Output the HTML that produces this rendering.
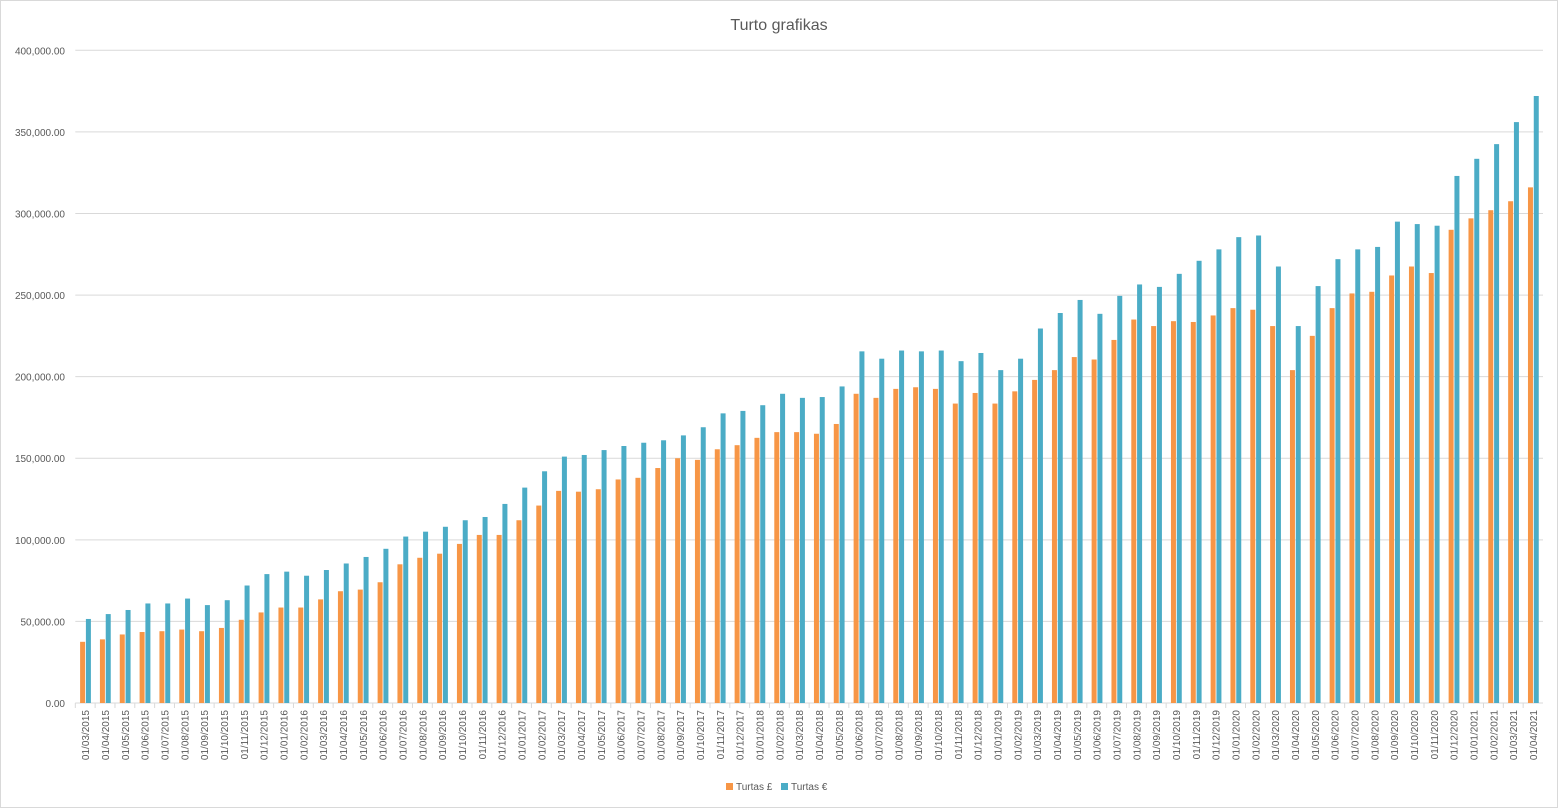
<!DOCTYPE html>
<html><head><meta charset="utf-8"><style>
html,body{margin:0;padding:0;background:#fff}
svg{display:block;font-family:"Liberation Sans",sans-serif}
</style></head><body>
<svg id="chart" width="1558" height="808">
<rect x="0.5" y="0.5" width="1557" height="807" fill="#fff" stroke="#d9d9d9"/>
<text x="779" y="30" text-anchor="middle" font-size="16" fill="#595959">Turto grafikas</text>
<g id="grid"></g><g id="bars"></g><g id="xlabels"></g>
<g>
<rect x="726" y="783" width="7" height="7" fill="#f79646"/>
<text x="736" y="790" font-size="10" fill="#595959">Turtas £</text>
<rect x="781" y="783" width="7" height="7" fill="#4bacc6"/>
<text x="791" y="790" font-size="10" fill="#595959">Turtas €</text>
</g>
</svg>
<script>
const gbpValues=[37.5,39,42,43.5,44,45,44,46,51,55.5,58.5,58.5,63.5,68.5,69.5,74,85,89,91.5,97.5,103,103,112,121,130,129.5,131,137,138,144,150,149,155.5,158,162.5,166,166,165,171,189.5,187,192.5,193.5,192.5,183.5,190,183.5,191,198,204,212,210.5,222.5,235,231,234,233.5,237.5,242,241,231,204,225,242,251,252,262,267.5,263.5,290,297,302,307.5,316];
const eurValues=[51.5,54.5,57,61,61,64,60,63,72,79,80.5,78,81.5,85.5,89.5,94.5,102,105,108,112,114,122,132,142,151,152,155,157.5,159.5,161,164,169,177.5,179,182.5,189.5,187,187.5,194,215.5,211,216,215.5,216,209.5,214.5,204,211,229.5,239,247,238.5,249.5,256.5,255,263,271,278,285.5,286.5,267.5,231,255.5,272,278,279.5,295,293.5,292.5,323,333.5,342.5,356,372];
const yTicks=[0,50000,100000,150000,200000,250000,300000,350000,400000];
const startYear=2015,startMonth=3;
const categories=gbpValues.map((_,i)=>{const m=(startMonth-1+i)%12+1,y=startYear+Math.floor((startMonth-1+i)/12);return "01/"+String(m).padStart(2,"0")+"/"+y;});
const NS="http://www.w3.org/2000/svg";
const X0=75.3,X1=1543,Y0=703,Y1=50.3,YMAX=400000;
const cw=(X1-X0)/categories.length;
const yS=v=>Y0-(v/YMAX)*(Y0-Y1);
function mk(t,a,p){const e=document.createElementNS(NS,t);for(const k in a)e.setAttribute(k,a[k]);p.appendChild(e);return e;}
const grid=document.getElementById('grid');
yTicks.forEach(v=>{
const y=yS(v);
const l=mk('line',{x1:X0,x2:X1,y1:y,y2:y,stroke:'#d9d9d9','stroke-width':1},grid);


const t=mk('text',{x:65,y:y+4,'text-anchor':'end','font-size':10,fill:'#595959'},grid);


t.textContent=v.toLocaleString('en-US',{minimumFractionDigits:2});
});
const bars=document.getElementById('bars'),xl=document.getElementById('xlabels');
categories.forEach((c,i)=>{
const x=X0+i*cw;
const tk=mk('line',{x1:x,x2:x,y1:Y0,y2:Y0+5,stroke:'#d9d9d9'},grid);


const g=gbpValues[i]*1000,e=eurValues[i]*1000;
const b1=mk('rect',{x:x+4.8,y:yS(g),width:5,height:Y0-yS(g),fill:'#f79646'},bars);


const b2=mk('rect',{x:x+10.6,y:yS(e),width:5,height:Y0-yS(e),fill:'#4bacc6'},bars);


const cx=x+cw/2+4;
const t=mk('text',{x:cx,y:710,'text-anchor':'end','font-size':10,fill:'#595959',transform:`rotate(-90 ${cx} 710)`},xl);


t.textContent=c;
});
const ax=mk('line',{x1:X0,x2:X1,y1:Y0,y2:Y0,stroke:'#d9d9d9'},grid);


</script>
</body></html>
